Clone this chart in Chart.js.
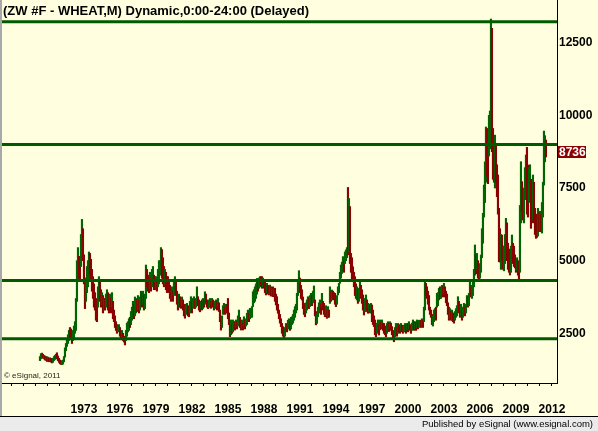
<!DOCTYPE html>
<html>
<head>
<meta charset="utf-8">
<title>ZW #F - WHEAT,M</title>
<script src="https://cdn.jsdelivr.net/npm/chart.js@4.4.1/dist/chart.umd.min.js"></script>
<style>
    html, body { margin: 0; padding: 0; background: #fff; }
    #chart { display: block; }
</style>
</head>
<body>
<canvas id="chart" width="598" height="431"></canvas>
<script>
// monthly bars, the first one is May 1969 on the chart's own time axis
const firstYear = 1969;
const firstMonth = 4;

// monthly lows, one row per year
const lows = [
    1560,1620,1680,1640,1620,1580,1570,1530,
    1550,1520,1540,1510,1480,1500,1560,1600,1620,1640,1560,1500,
    1450,1430,1420,1440,1520,1680,1900,2050,2150,2250,2350,2300,
    2150,2250,2350,2500,2600,3600,4300,4400,4300,4800,5500,5000,
    4200,3350,3600,3900,4100,4300,4500,4300,3950,3700,3400,3300,
    2950,2900,3400,3700,3600,3400,3500,3200,3300,3300,3400,3500,
    3300,3200,3400,3200,3400,3000,2900,2700,2600,2500,2550,2600,
    2400,2300,2350,2250,2200,2100,2250,2400,2550,2600,2700,2800,
    2950,3100,3000,3100,3200,3250,3300,3200,3300,3450,3400,3500,
    3300,3350,3700,4100,3950,3900,4000,3950,4100,4200,4000,4000,
    4050,3950,4100,4200,4500,4800,4400,4200,4100,4200,4000,3900,
    3950,3900,3700,3600,3650,3600,3800,4000,3800,3500,3300,3400,
    3400,3360,3450,3300,3100,3020,3150,3200,3100,3070,3200,3300,
    3200,3360,3400,3350,3400,3600,3450,3300,3240,3350,3300,3350,
    3400,3500,3550,3400,3350,3400,3400,3360,3450,3400,3300,3350,
    3400,3300,3400,3250,2900,2610,2700,3150,3200,3150,3200,3200,
    3000,2800,2385,2450,2500,2550,2650,2610,2700,2650,2750,2850,
    2700,2614,2650,2614,2700,2650,2750,2800,2950,2900,3000,3050,
    3050,3420,3550,3600,3700,3850,3950,4050,4100,4150,4050,4100,
    4050,3900,3820,3900,3850,3820,3850,3780,3800,3760,3800,3600,
    3475,3300,3190,3000,2850,2730,2500,2400,2330,2400,2614,2550,
    2650,2700,2600,2650,2800,2850,2950,3050,3200,3300,3800,4100,
    3900,3700,3646,3350,3150,3070,3200,3300,3400,3350,3420,3500,
    3450,3550,3650,3100,2790,2840,3070,3200,3250,3150,3420,3300,
    3150,3070,3150,3015,3050,3050,3530,3600,3646,3700,3650,3500,
    3417,3500,3820,3900,4220,4400,4560,4700,4600,4900,5000,5100,
    5200,5300,4900,4600,4330,4300,4100,3800,3700,3646,3530,3600,
    3800,3700,3530,3300,3130,3240,3300,3250,3190,3250,3200,3200,
    2900,2800,2730,2450,2385,2500,2600,2440,2620,2650,2700,2600,
    2500,2450,2380,2500,2600,2560,2650,2600,2450,2300,2210,2384,
    2450,2400,2500,2550,2500,2600,2550,2500,2550,2600,2500,2600,
    2550,2650,2600,2500,2600,2700,2600,2650,2600,2700,2650,2700,
    2750,2700,2750,2700,2900,3300,3800,3700,3500,3300,3150,3050,
    2800,2750,2900,3000,2950,3400,3450,3650,3700,3700,3800,3750,
    3850,3750,3550,3450,3150,2950,3000,2950,2950,2900,2850,2950,
    3050,3100,3300,3200,3050,3100,2950,3050,3150,3100,3200,3420,
    3400,3450,3800,3750,3700,3800,4100,4500,4550,4700,4400,4300,
    4400,4600,5100,5600,6500,7000,7700,7900,7650,8600,8850,9650,
    8750,7800,7700,7500,7700,7200,6600,4965,4950,4700,5000,4700,
    4650,4900,5300,5000,4700,4600,4506,4600,5000,4900,4800,4750,
    4600,4650,4500,4277,4600,6300,6700,6400,6300,7100,7500,6600,
    6500,7000,7200,6112,6300,6400,6300,5900,5768,5800,5850,6000,
    6000,5998,5950,6500,7600,8400,8570
];

// monthly highs, same rows
const highs = [
    1700,1800,1820,1780,1740,1720,1700,1690,
    1680,1640,1660,1640,1600,1640,1700,1740,1780,1830,1720,1640,
    1580,1560,1540,1580,1700,2000,2150,2300,2450,2600,2700,2650,
    2550,2600,2750,2900,3700,5000,5450,5150,5000,5900,6420,6100,
    5200,4400,4400,4800,5000,5300,5250,5050,4700,4450,4200,3900,
    3700,3500,4100,4450,4300,4000,3900,3800,3700,3700,3850,4000,
    3900,3600,3850,3700,3900,3600,3300,3100,2900,2800,2750,2800,
    2700,2550,2600,2500,2400,2300,2600,2850,2900,3000,3050,3250,
    3400,3600,3500,3750,3700,3650,3800,3650,3750,3950,3900,3950,
    3800,3850,4850,4700,4500,4400,4600,4400,4700,4800,4500,4450,
    4450,4300,4700,5000,5000,5450,5380,5100,4800,4700,4600,4450,
    4450,4300,4150,4000,4100,3950,4300,4450,4300,3950,3800,3850,
    3760,3700,3750,3650,3500,3400,3500,3530,3450,3400,3600,3760,
    3600,3700,3760,3650,3700,4100,3760,3650,3500,3600,3650,3700,
    3650,3930,3850,3650,3600,3650,3700,3600,3700,3650,3550,3600,
    3650,3600,3700,3550,3300,3050,3100,3450,3530,3400,3500,3470,
    3700,3200,2850,2960,2800,2960,2900,2900,2960,2900,3100,3300,
    3050,2850,2960,2850,3070,2950,3000,3190,3300,3200,3360,3300,
    3420,3930,4000,4100,4200,4390,4300,4400,4450,4450,4450,4400,
    4350,4280,4150,4220,4150,4100,4160,4100,4050,4100,4050,4050,
    3850,3760,3500,3300,3150,3000,2840,2730,2600,2700,2840,2800,
    2950,3000,2900,3050,3070,3150,3300,3420,3500,3875,4350,4655,
    4400,4150,4000,3750,3530,3400,3550,3650,3760,3700,3800,3875,
    3800,3950,4130,3650,3250,3190,3400,3550,3650,3500,3875,3600,
    3530,3350,3450,3300,3420,3300,4100,3950,3990,3950,3900,3875,
    3700,3800,4100,4220,4600,4850,4950,5140,5000,5300,5370,5450,
    7520,7140,6860,5250,5100,4790,4600,4450,4200,4100,4000,4050,
    4330,4150,4000,3820,3600,3700,3820,3650,3530,3500,3450,3530,
    3475,3300,3100,2960,2800,2850,2960,2800,2960,2900,2960,2850,
    2840,2750,2700,2840,2900,2850,2900,2850,2730,2600,2500,2700,
    2840,2700,2840,2800,2750,2840,2780,2750,2780,2840,2780,2840,
    2840,2900,2800,2750,2850,2960,2900,2900,2880,2960,2900,2950,
    2950,2950,3000,2950,3400,4270,4220,4100,3950,3800,3400,3300,
    3150,3100,3300,3350,3400,3875,3900,4050,4100,4050,4150,4100,
    4220,4100,3950,3850,3550,3400,3350,3250,3300,3200,3150,3250,
    3350,3450,3760,3600,3450,3500,3300,3400,3530,3400,3500,3800,
    3750,3875,4334,4100,4150,4300,4700,5540,5200,5250,5000,4850,
    4900,5195,6100,6630,7600,8400,9600,9550,8800,10000,10150,13315,
    12994,9550,9100,9320,9000,8300,7950,6800,6100,5900,5880,5500,
    5500,5900,6456,6300,5600,5400,5100,5500,5883,5600,5500,5200,
    5050,5100,5000,4800,6900,8406,7718,7400,7500,8200,8636,8900,
    8290,8200,8300,7800,7400,7947,7700,6800,6600,6500,6800,6650,
    6700,6600,7000,7700,9460,9300,9150
];

// u = up month (green), d = down month (red)
const dirs = [
    'uuududud', 'ududduuuuddd', 'dduuuuuuuudd', 'duuuuuudduud', 'dduuuudddddd',
    'dduuddududuu', 'ddududdddduu', 'dduddduuuudu', 'uuduududuudu', 'duuddduduudd',
    'uduuuudddudd', 'dddduduudddu', 'dduddduudduu', 'duuduudddudu', 'duddduududdu',
    'ududdduuudud', 'ddduduududuu', 'ddududuuuduu', 'uuuuuuduuddu', 'ddduddududud',
    'ddddddddduud', 'uuduuuuuuuuu', 'dddddduuuduu', 'duudduuuudud', 'ddududududdd',
    'duuuuuuuduuu', 'dudddddddudu', 'udddduuddudu', 'ddddduududud', 'ddduududdddu',
    'ududdudduudu', 'dudduudududu', 'ududuudddddd', 'duuuduuuduud', 'udddddududdu',
    'uuudduduuduu', 'duuduuuududd', 'uuuuuuudduuu', 'dddudddddudd', 'uuudddduuddd',
    'dudduudduuud', 'duudduddddud', 'uduuuud'
].join('');

// horizontal support / resistance lines
const levels = [13220, 9000, 4320, 2310];
const priceTicks = [2500, 5000, 7500, 10000, 12500];
const lastPrice = 8736;

const xMin = 1966.17;
const xMax = 2012.42;
const yearTicks = [];
for (let y = 1967; y <= 2012; y++) yearTicks.push(y);

const GREEN = '#006400';
const RED = '#8b0000';
const FONT = "'Liberation Sans', Arial, sans-serif";

const bars = lows.map((lo, i) => ({ x: firstYear + (firstMonth + i) / 12, y: [lo, highs[i]] }));
const barColors = lows.map((lo, i) => dirs[i] === 'd' ? RED : GREEN);

const levelSets = levels.map(v => ({
    type: 'line',
    data: [{ x: xMin, y: v }, { x: xMax, y: v }],
    borderColor: '#005a00',
    borderWidth: 3,
    pointRadius: 0,
    order: 0
}));

// background, frame, title and labels that are not part of an axis
const frame = {
    id: 'frame',
    beforeDraw(chart) {
        const ctx = chart.ctx;
        const w = chart.width, h = chart.height;
        ctx.save();
        ctx.fillStyle = '#ffffe0';
        ctx.fillRect(0, 0, w, 416);
        ctx.fillStyle = '#ebebeb';
        ctx.fillRect(0, 416, w, h - 416);
        ctx.fillStyle = '#000';
        ctx.fillRect(0, 416, w, 1);
        ctx.fillStyle = '#a8a8a8';
        ctx.fillRect(0, 0, 2, 416);
        ctx.fillStyle = '#000';
        ctx.font = '9.5px ' + FONT;
        ctx.textAlign = 'right';
        ctx.textBaseline = 'alphabetic';
        ctx.fillText('Published by eSignal (www.esignal.com)', 593, 427);
        ctx.restore();
    },
    afterDraw(chart) {
        const ctx = chart.ctx;
        const y = chart.scales.y;
        ctx.save();
        ctx.fillStyle = '#000';
        ctx.textAlign = 'left';
        ctx.textBaseline = 'alphabetic';
        ctx.font = 'bold 13px ' + FONT;
        ctx.fillText('(ZW #F - WHEAT,M) Dynamic,0:00-24:00 (Delayed)', 3, 15);
        ctx.font = '8px ' + FONT;
        ctx.fillStyle = '#222';
        ctx.fillText('\u00a9 eSignal, 2011', 4, 378);

        // last price tag on the price axis
        const py = Math.round(y.getPixelForValue(lastPrice));
        ctx.fillStyle = RED;
        ctx.fillRect(y.left + 1, py - 6, 28, 12);
        ctx.fillStyle = '#fff';
        ctx.font = 'bold 12px ' + FONT;
        ctx.textBaseline = 'middle';
        ctx.fillText(String(lastPrice), y.left + 2, py + 0.5);
        ctx.restore();
    }
};

new Chart(document.getElementById('chart'), {
    type: 'bar',
    data: {
        datasets: [
            {
                type: 'bar',
                data: bars,
                backgroundColor: barColors,
                borderWidth: 0,
                barThickness: 1.5,
                order: 1
            },
            ...levelSets
        ]
    },
    options: {
        responsive: false,
        devicePixelRatio: 1,
        animation: false,
        events: [],
        layout: { padding: { left: 2, right: 0, top: 0, bottom: 15 } },
        plugins: {
            legend: { display: false },
            tooltip: { enabled: false },
            title: { display: false }
        },
        scales: {
            x: {
                type: 'linear',
                min: xMin,
                max: xMax,
                offset: false,
                grid: { display: true, drawOnChartArea: false, drawTicks: true, tickLength: 3, color: '#000', offset: false },
                border: { display: true, color: '#000', width: 1 },
                afterBuildTicks: s => { s.ticks = yearTicks.map(v => ({ value: v })); },
                afterFit: s => { s.height = 33; s.paddingLeft = 0; s.paddingRight = 0; },
                ticks: {
                    autoSkip: false,
                    maxRotation: 0,
                    padding: 16,
                    color: '#000',
                    font: { family: FONT, size: 12, weight: 'bold' },
                    callback: v => (v >= 1973 && (v - 1973) % 3 === 0) ? String(v) : ''
                }
            },
            y: {
                position: 'right',
                min: 790,
                max: 13970,
                grid: { display: false, drawTicks: false },
                border: { display: true, color: '#000', width: 1 },
                afterBuildTicks: s => { s.ticks = priceTicks.map(v => ({ value: v })); },
                afterFit: s => { s.width = 41; s.paddingTop = 0; s.paddingBottom = 0; },
                ticks: {
                    padding: 2,
                    color: '#000',
                    font: { family: FONT, size: 12, weight: 'bold' },
                    callback: v => String(v)
                }
            }
        }
    },
    plugins: [frame]
});
</script>
</body>
</html>
